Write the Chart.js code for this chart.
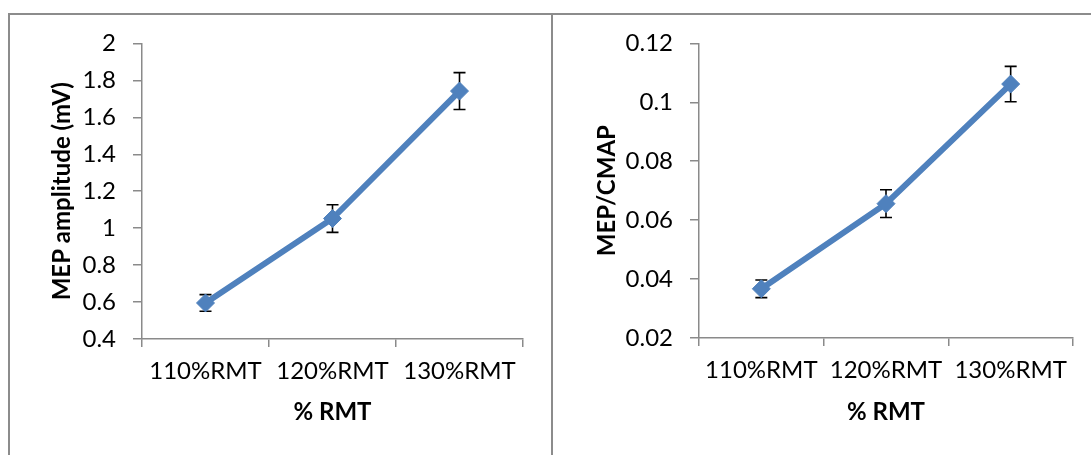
<!DOCTYPE html>
<html>
<head>
<meta charset="utf-8">
<script src="https://cdn.jsdelivr.net/npm/chart.js@4.4.0/dist/chart.umd.min.js"></script>
<style>
  body { margin: 0; background: #fff; }
  #wrap { position: relative; width: 1091px; height: 455px; overflow: hidden; }
  .edge { position: absolute; background: #8c8c8c; }
  canvas { position: absolute; }
</style>
</head>
<body>
<div id="wrap">
  <div class="edge" style="left:8px; top:13px; width:1083px; height:2px;"></div>
  <div class="edge" style="left:8px; top:13px; width:2px; height:442px;"></div>
  <div class="edge" style="left:551px; top:13px; width:2px; height:442px;"></div>
  <canvas id="ampChart" width="541" height="443" style="left:10px; top:12px;"></canvas>
  <canvas id="ratioChart" width="538" height="443" style="left:553px; top:12px;"></canvas>
</div>
<script>
const categories = ['110%RMT', '120%RMT', '130%RMT'];

const ampValues = [0.595, 1.052, 1.742];
const ampErrors = [0.045, 0.075, 0.1];
const ampTicks = [0.4, 0.6, 0.8, 1, 1.2, 1.4, 1.6, 1.8, 2];

const ratioValues = [0.0367, 0.0656, 0.1062];
const ratioErrors = [0.003, 0.0047, 0.006];
const ratioTicks = [0.02, 0.04, 0.06, 0.08, 0.1, 0.12];

const AXIS = '#8a8a8a';
const BLUE = '#4f81bd';

// vertical error bars with caps, drawn under the line and markers
const errorBars = {
    id: 'errorBars',
    beforeDatasetsDraw(chart, args, opts) {
        const { ctx, scales: { x, y } } = chart;
        const values = chart.data.datasets[0].data;
        ctx.save();
        ctx.strokeStyle = '#000';
        ctx.lineWidth = 1.6;
        values.forEach((v, i) => {
            const px = x.getPixelForValue(i);
            const top = y.getPixelForValue(v + opts.errors[i]);
            const bot = y.getPixelForValue(v - opts.errors[i]);
            ctx.beginPath();
            ctx.moveTo(px, top); ctx.lineTo(px, bot);
            ctx.moveTo(px - 6, top); ctx.lineTo(px + 6, top);
            ctx.moveTo(px - 6, bot); ctx.lineTo(px + 6, bot);
            ctx.stroke();
        });
        ctx.restore();
    }
};

function makeChart(id, values, errors, ticks, yTitle, box) {
    const ctx = document.getElementById(id).getContext('2d');
    return new Chart(ctx, {
        type: 'line',
        plugins: [errorBars],
        data: {
            labels: categories,
            datasets: [{
                data: values,
                borderColor: BLUE,
                borderWidth: 6,
                backgroundColor: BLUE,
                pointStyle: 'rectRot',
                pointRadius: 9,
                pointBorderWidth: 1,
                pointBorderColor: BLUE,
                tension: 0
            }]
        },
        options: {
            responsive: false,
            animation: false,
            layout: { padding: { top: box.top, right: box.right, left: 0, bottom: 0 } },
            plugins: {
                legend: { display: false },
                tooltip: { enabled: false },
                errorBars: { errors: errors }
            },
            scales: {
                x: {
                    offset: true,
                    grid: { display: true, offset: true, drawOnChartArea: false, tickLength: 8, color: AXIS, lineWidth: 1.5 },
                    border: { color: AXIS, width: 1.5 },
                    ticks: { color: '#000', padding: 10, maxRotation: 0, font: { family: 'Lato', size: 24 } },
                    title: { display: true, text: '% RMT', color: '#000', padding: { top: 4, bottom: 28 }, font: { family: 'Lato', size: 24, weight: 'bold' } },
                    afterFit(scale) { scale.height = box.xHeight; }
                },
                y: {
                    min: ticks[0],
                    max: ticks[ticks.length - 1],
                    afterBuildTicks(scale) { scale.ticks = ticks.map(v => ({ value: v })); },
                    grid: { display: true, drawOnChartArea: false, tickLength: 9, color: AXIS, lineWidth: 1.5 },
                    border: { color: AXIS, width: 1.5 },
                    ticks: { color: '#000', padding: 17, font: { family: 'Lato', size: 24 }, callback: v => String(v) },
                    title: { display: true, text: yTitle, color: '#000', padding: { top: box.titleTop, bottom: 0 }, font: { family: 'Lato', size: 24, weight: 'bold' } },
                    afterFit(scale) { scale.width = box.yWidth; }
                }
            }
        }
    });
}

document.addEventListener('DOMContentLoaded', function() {
    makeChart('ampChart', ampValues, ampErrors, ampTicks, 'MEP amplitude (mV)',
        { top: 25, right: 28, yWidth: 132, xHeight: 116, titleTop: 38 });
    makeChart('ratioChart', ratioValues, ratioErrors, ratioTicks, 'MEP/CMAP',
        { top: 24, right: 18, yWidth: 146, xHeight: 117, titleTop: 40 });
});
</script>
</body>
</html>
